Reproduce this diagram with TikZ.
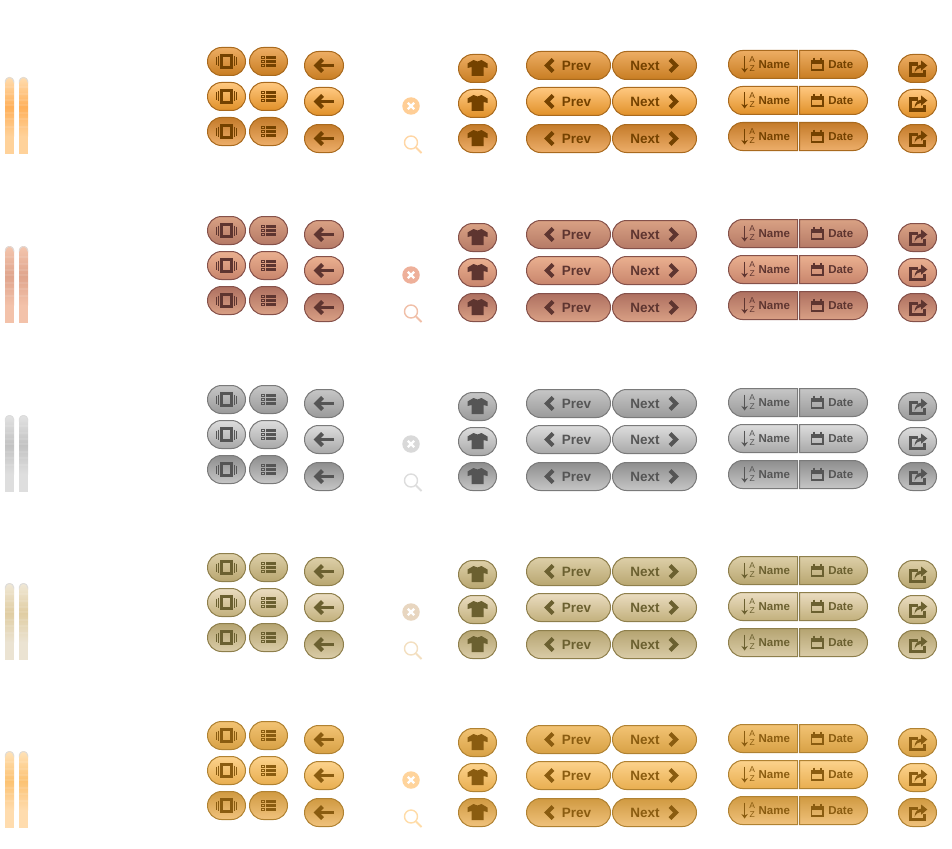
\documentclass[tikz,border=0pt]{standalone}
\usepackage{fontspec}
\setmainfont{Liberation Sans}
\usetikzlibrary{shapes.misc, arrows.meta}
\newcommand{\btncolors}[9]{%
  \definecolor{#1Line}{HTML}{#2}\definecolor{#1Icon}{HTML}{#3}%
  \definecolor{#1aTop}{HTML}{#4}\definecolor{#1aBot}{HTML}{#5}%
  \definecolor{#1bTop}{HTML}{#6}\definecolor{#1bBot}{HTML}{#7}%
  \definecolor{#1cTop}{HTML}{#8}\definecolor{#1cBot}{HTML}{#9}}
\newcommand{\softcolors}[6]{%
  \definecolor{#1StripTop}{HTML}{#2}\definecolor{#1StripMid}{HTML}{#3}%
  \definecolor{#1StripBot}{HTML}{#4}\definecolor{#1Clear}{HTML}{#5}%
  \definecolor{#1Search}{HTML}{#6}}
\btncolors{org}{A96A1E}{744200}{EDAD63}{C87D22}{FFC880}{E09028}{C47B2A}{EDAE6A}
\btncolors{red}{85514A}{5E3530}{D9A184}{B57A66}{EAB090}{C8856C}{AE7060}{D9A085}
\btncolors{gry}{7A7A7A}{555555}{C6C6C6}{9A9A9A}{DDDDDD}{A8A8A8}{8E8E8E}{C6C6C6}
\btncolors{tan}{8E7F4C}{6B6030}{DDCFA8}{B8A670}{EADCC0}{C2B07C}{B5A471}{DACCA8}
\btncolors{yel}{B08232}{8A5C10}{F2C374}{D8A145}{FCD28C}{E8AE50}{D09A42}{F0C27C}
\softcolors{org}{FFDDB0}{FFB05A}{FFD29A}{FFCE96}{FFD6A5}
\softcolors{red}{F4C6AE}{DFA48C}{F3C2AA}{EEB09A}{F0BFA8}
\softcolors{gry}{E2E2E2}{C2C2C2}{DEDEDE}{D9D9D9}{DDDDDD}
\softcolors{tan}{F0E8D6}{E0CDA2}{EBE3D2}{E8D6C0}{F3DFC0}
\softcolors{yel}{FFE2B8}{FCC272}{FFDCAE}{FFD49C}{FFDCA8}
\definecolor{stripcap}{HTML}{DCDCDC}
\tikzset{
  iconstack/.pic={
    \draw[icon, line width=2.5pt] (-5,-6) rectangle (5,6);
    \foreach \lx/\lh in {-7.8/5,-9.8/4,7.8/5,9.8/4}
      \draw[icon, line width=1pt] (\lx,-\lh) -- (\lx,\lh);
  },
  iconlist/.pic={
    \foreach \ly in {-3.8,0,3.8}{
      \draw[icon, line width=.9pt] (-7.3,\ly-1.2) rectangle (-4.5,\ly+1.2);
      \fill[icon] (-2.5,\ly-1.6) rectangle (7.5,\ly+1.6);
    }
  },
  iconback/.pic={
    \draw[icon, line width=3.2pt] (9.5,0) -- (-6,0);
    \draw[icon, line width=4pt] (-1.5,-6) -- (-7.5,0) -- (-1.5,6);
  },
  iconshirt/.pic={
    \fill[icon] (-4,-8.5) -- (0,-7) -- (4,-8.5) -- (10,-5) -- (10,-.5) -- (6,-1.5) -- (6,7.5)
      -- (-6,7.5) -- (-6,-1.5) -- (-10,-.5) -- (-10,-5) -- cycle;
  },
  chevleft/.pic={\draw[icon, line width=4pt] (3,-6) -- (-3,0) -- (3,6);},
  chevright/.pic={\draw[icon, line width=4pt] (-3,-6) -- (3,0) -- (-3,6);},
  iconsort/.pic={
    \draw[icon, line width=1.4pt, -{Stealth[length=4.5pt,width=6.5pt]}] (0,-8) -- (0,8);
    \node[icon, font=\fontsize{8.5}{8.5}\selectfont, inner sep=0pt] (a) at (7.6,-4.6) {A};
    \node[icon, font=\fontsize{8.5}{8.5}\selectfont, inner sep=0pt] (z) at (7.6,4.4) {Z};
  },
  iconcal/.pic={
    \draw[icon, line width=1.8pt] (-5.7,-3.6) rectangle (5.7,5.4);
    \fill[icon] (-5.7,-3.6) rectangle (5.7,-.6);
    \draw[icon, line width=2pt] (-3.4,-6.8) -- (-3.4,-3.6) (3.4,-6.8) -- (3.4,-3.6);
  },
  iconshare/.pic={
    \draw[icon, line width=3.2pt] (.5,-4.4) -- (-7,-4.4) -- (-7,6.6) -- (7,6.6) -- (7,1.5);
    \fill[icon] (-3,4.4) .. controls (-2.6,-1) and (0,-3.4) .. (3.6,-3.8) -- (3.6,-8) -- (9.8,-3)
      -- (3.6,2.2) -- (3.6,-.6) .. controls (1,-.6) and (-1.5,1) .. (-3,4.4) -- cycle;
  }
}
\begin{document}
\begin{tikzpicture}[
  x=1pt, y=-1pt,
  btn/.style={rounded rectangle, draw=btnline, line width=1pt, top color=btntop, bottom color=btnbot,
    minimum height=28pt, inner sep=0pt, outer sep=0pt, anchor=west, text=icon},
  bigtext/.style={font=\fontsize{13.5}{14}\selectfont\bfseries},
  smalltext/.style={font=\fontsize{11.5}{12}\selectfont\bfseries}
]
  \useasboundingbox (0,0) rectangle (952,848);
  \foreach \grp/\dy in {org/0,red/169,gry/338,tan/506,yel/674}{
    \begin{scope}[shift={(0,\dy+0.5)}]
      \colorlet{btnline}{\grp Line}
      \colorlet{icon}{\grp Icon}
      \foreach \sx in {5,19}{
        \shade[top color=\grp StripTop, bottom color=\grp StripBot, middle color=\grp StripMid]
          (\sx,136) {[rounded corners=4pt] -- (\sx,76.5) -- (\sx+9,76.5)} -- (\sx+9,136) -- cycle;
        \foreach \by in {86,93,99,104,112,118,125}
          \fill[white, opacity=.1] (\sx,\by) rectangle (\sx+9,\by+2);
        \fill[\grp StripBot] (\sx,135.5) rectangle (\sx+9,153.5);
        \draw[stripcap, line width=.8pt, rounded corners=4pt] (\sx+.3,80) -- (\sx+.3,77) -- (\sx+8.7,77) -- (\sx+8.7,80);
      }
      \node[circle, fill=\grp Clear, minimum size=17.5pt, inner sep=0pt] (clear\grp) at (411,105.5) {};
      \draw[white, line width=2.2pt] ([shift={(-3.2,-3.2)}]clear\grp.center) -- ([shift={(3.2,3.2)}]clear\grp.center)
        ([shift={(-3.2,3.2)}]clear\grp.center) -- ([shift={(3.2,-3.2)}]clear\grp.center);
      \node[circle, draw=\grp Search, line width=1.4pt, minimum size=13pt, inner sep=0pt] (search\grp) at (411,142) {};
      \draw[\grp Search, line width=1.8pt] (search\grp.south east) -- ++(5.5,5.5);
      \foreach \st/\ya/\yb/\yc/\yd in {a/47/51/54/50,b/82/87/89/86,c/117/124/124/122}{
        \colorlet{btntop}{\grp\st Top}
        \colorlet{btnbot}{\grp\st Bot}
        \node[btn, minimum width=38pt] (stackA\grp\st) at (207.5,\ya+14) {};
        \node[btn, minimum width=38pt] (stackB\grp\st) at (249.5,\ya+14) {};
        \node[btn, minimum width=39pt] (back\grp\st) at (304.5,\yb+14) {};
        \node[btn, minimum width=38pt] (shirt\grp\st) at (458.5,\yc+14) {};
        \node[btn, bigtext, minimum width=84pt] (prev\grp\st) at (526.5,\yb+14) {\hspace{16pt}Prev};
        \node[btn, bigtext, minimum width=84pt] (next\grp\st) at (612.5,\yb+14) {Next\kern19pt};
        \node[btn, smalltext, rounded rectangle east arc=none, minimum width=69pt] (name\grp\st) at (728.5,\yd+14) {\hspace{22pt}Name};
        \node[btn, smalltext, rounded rectangle west arc=none, minimum width=68pt] (date\grp\st) at (799.5,\yd+14) {\hspace{15pt}Date};
        \node[btn, minimum width=38pt] (share\grp\st) at (898.5,\yc+14) {};
        \pic at (stackA\grp\st.center) {iconstack};
        \pic at (stackB\grp\st.center) {iconlist};
        \pic at (back\grp\st.center) {iconback};
        \pic at (shirt\grp\st.center) {iconshirt};
        \pic at ([xshift=-18.5pt]prev\grp\st.center) {chevleft};
        \pic at ([xshift=18.5pt]next\grp\st.center) {chevright};
        \pic at ([xshift=-18.7pt]name\grp\st.center) {iconsort};
        \pic at ([xshift=-16pt]date\grp\st.center) {iconcal};
        \pic at (share\grp\st.center) {iconshare};
      }
    \end{scope}
  }
\end{tikzpicture}
\end{document}
